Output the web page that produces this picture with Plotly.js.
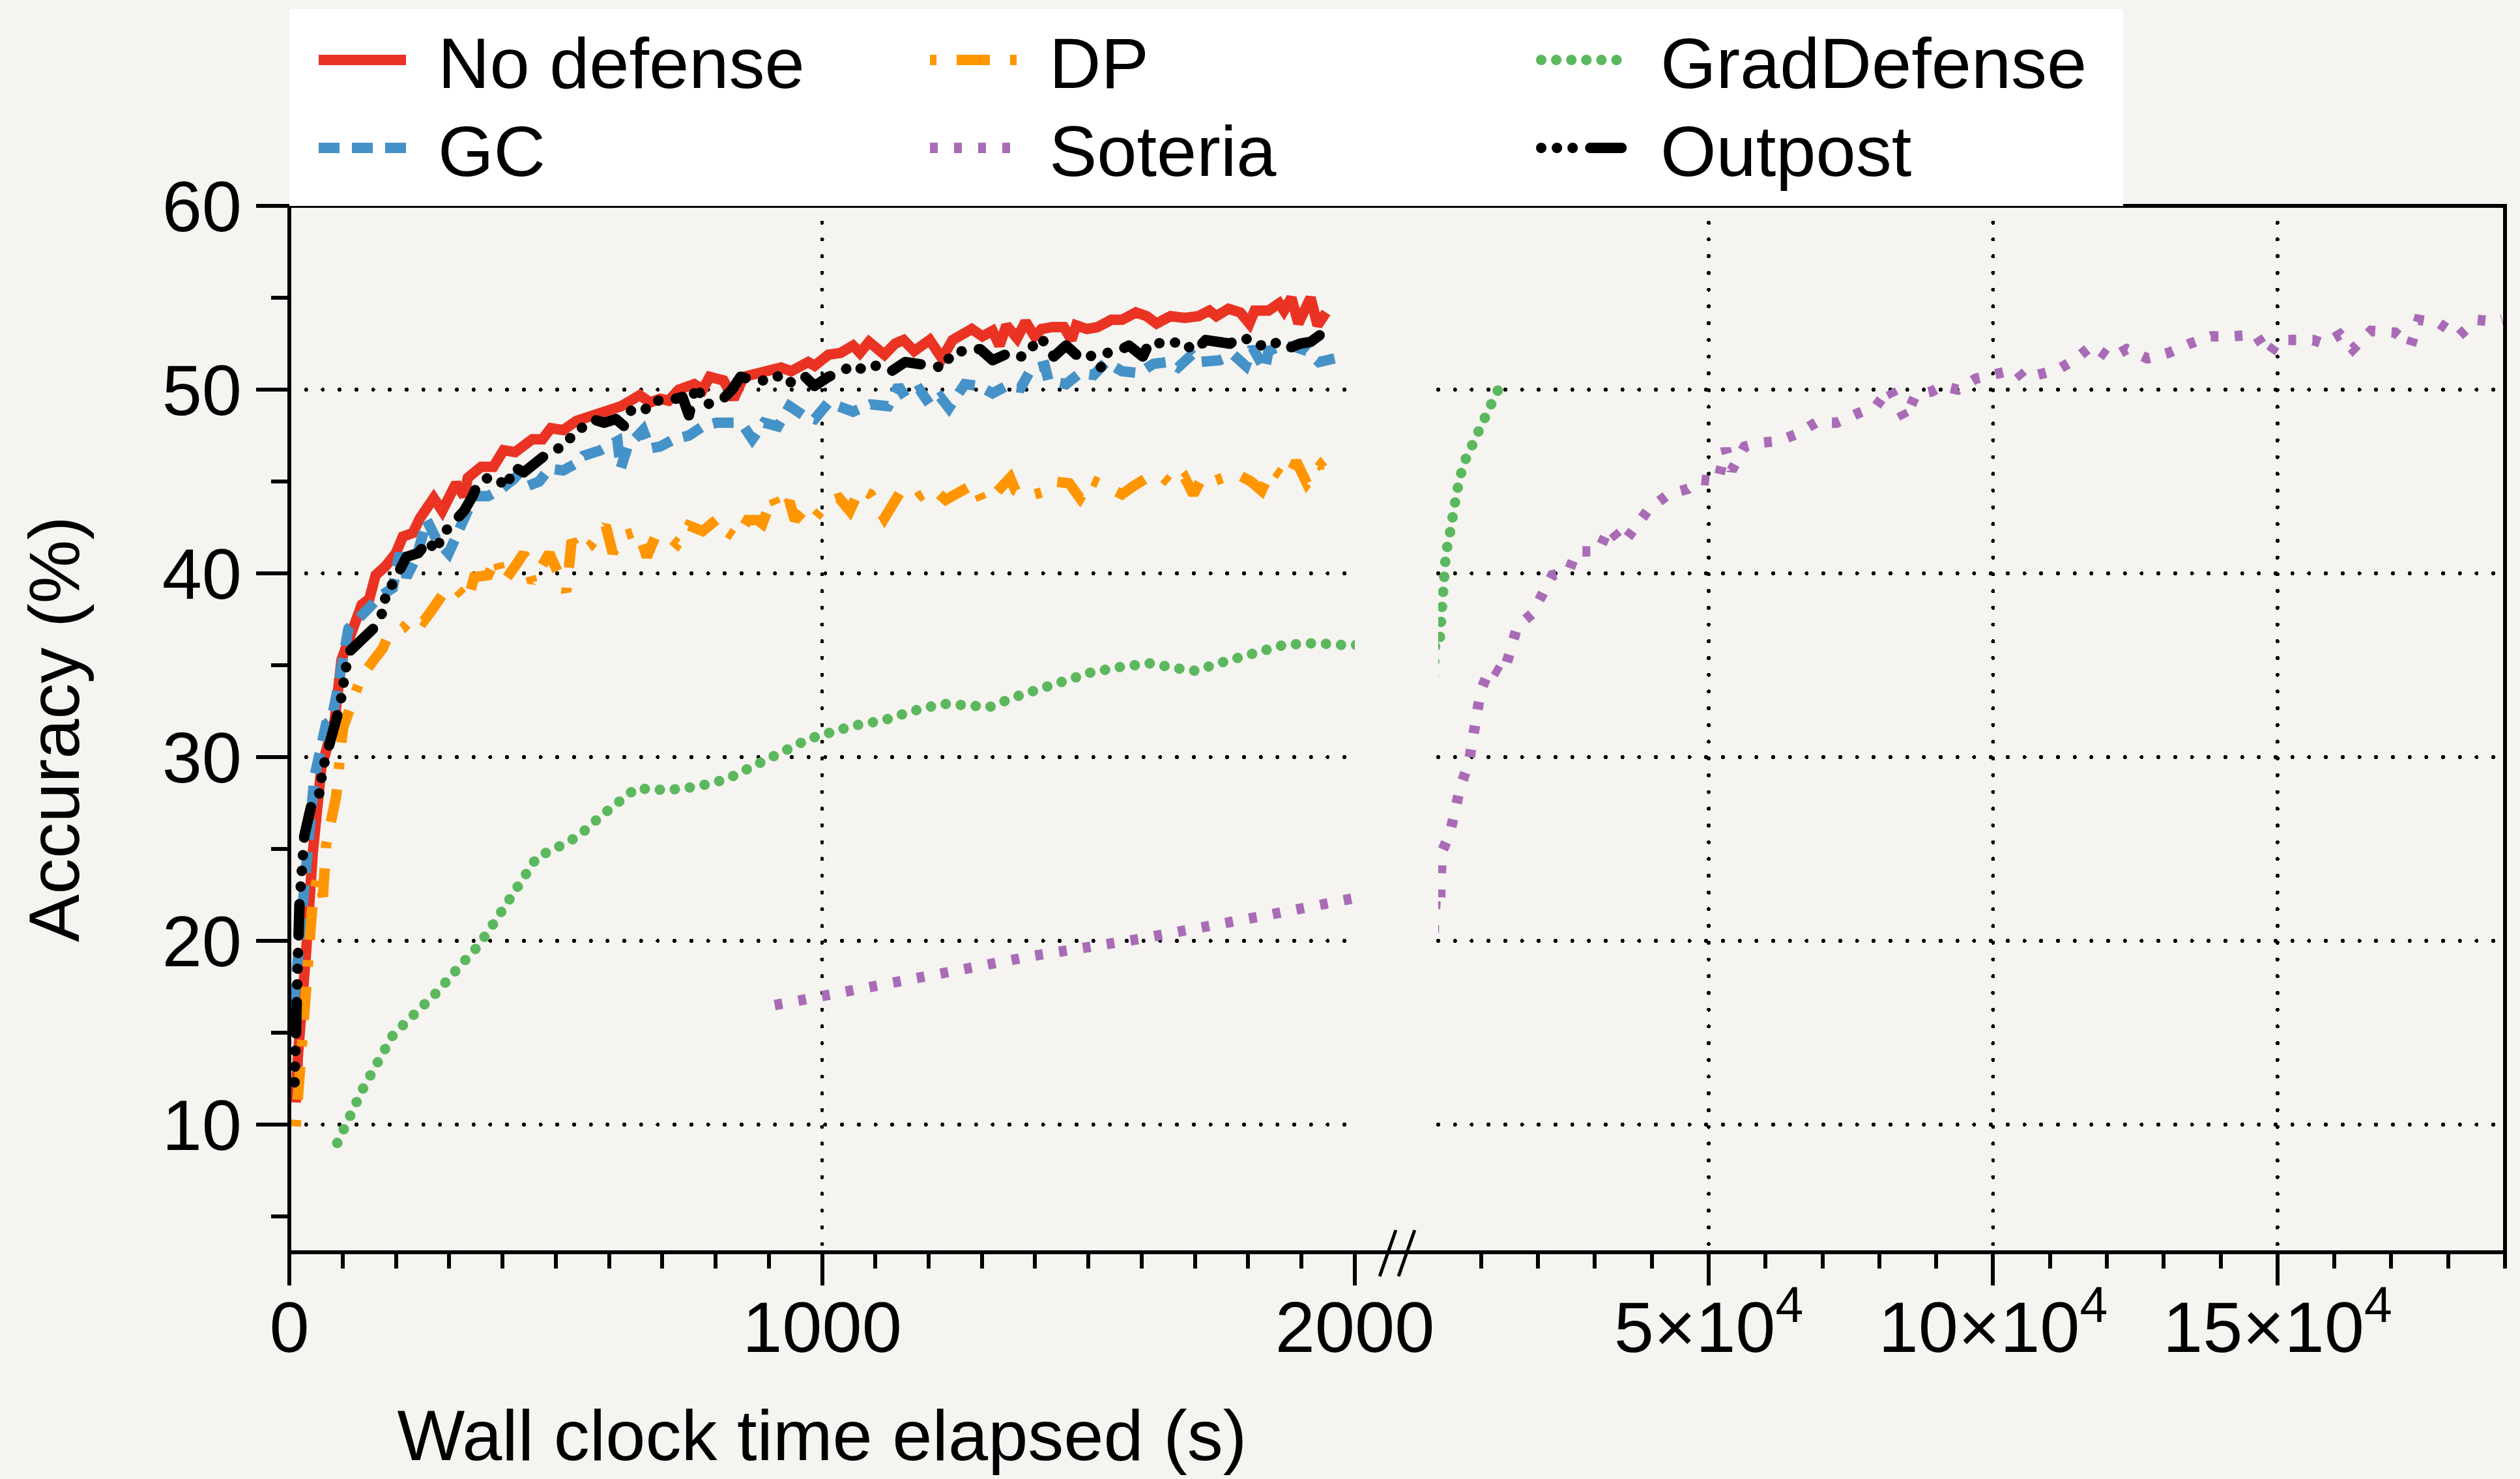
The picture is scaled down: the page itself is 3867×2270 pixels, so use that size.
<!DOCTYPE html>
<html>
<head>
<meta charset="utf-8">
<script src="https://cdn.plot.ly/plotly-3.0.1.min.js"></script>
<style>
  html, body { margin: 0; padding: 0; background: #F5F4F0; }
  #chart { width: 3867px; height: 2270px; }
</style>
</head>
<body>
<div id="chart"></div>
<script>
// ---------------- DATA ----------------
const noDefenseTime = [12,16,31,44,60,85,98,115,136,150,162,181,200,213,232,245,271,287,313,328,335,360,383,402,424,456,475,491,514,539,568,591,623,658,677,696,712,731,760,776,789,815,834,853,891,923,942,974,986,1012,1035,1058,1071,1088,1117,1137,1153,1173,1202,1225,1245,1281,1301,1320,1333,1346,1366,1382,1399,1412,1432,1454,1468,1477,1497,1517,1543,1563,1589,1609,1628,1654,1681,1707,1727,1740,1763,1785,1802,1812,1838,1858,1867,1881,1894,1917,1930,1946];
const noDefenseAcc  = [11.2,13.7,19.2,24.8,29.4,32.0,35.3,36.8,38.3,38.6,39.9,40.4,41.1,42.0,42.2,43.0,44.1,43.4,44.9,44.2,45.2,45.8,45.8,46.7,46.6,47.3,47.3,47.9,47.8,48.3,48.6,48.7,49.1,49.7,49.3,49.5,49.4,50.0,50.3,50.0,50.7,50.5,49.5,50.7,50.9,51.2,51.0,51.5,51.3,51.9,52.0,52.4,52.0,52.6,51.9,52.5,52.7,52.1,52.7,51.7,52.7,53.3,52.9,53.2,52.4,53.5,52.8,53.7,52.9,53.3,53.4,53.4,52.7,53.5,53.3,53.4,53.8,53.8,54.2,54.0,53.6,54.0,53.9,54.0,54.3,54.0,54.4,54.2,53.6,54.3,54.3,54.7,54.3,55.0,53.6,55.0,53.5,54.2];

const gcTime = [8,18,28,34,47,69,79,88,111,149,168,194,207,220,239,258,277,299,315,331,347,373,398,424,443,469,488,514,539,552,584,616,622,635,664,677,696,722,750,776,802,834,853,869,891,917,939,965,986,1012,1038,1058,1091,1124,1143,1156,1183,1202,1222,1238,1268,1294,1320,1346,1373,1392,1418,1425,1458,1484,1510,1533,1563,1595,1622,1648,1668,1694,1707,1746,1772,1795,1808,1831,1838,1864,1890,1910,1933,1962];
const gcAcc  = [16.5,19.4,23.3,25.2,28.9,31.8,32.0,33.3,37.0,38.1,38.7,39.2,41.1,39.8,40.9,42.9,41.8,41.1,42.2,43.3,44.2,44.2,44.6,45.2,44.7,45.0,45.7,45.6,46.0,46.4,46.7,47.2,45.7,46.9,47.8,46.8,46.9,47.3,47.5,48.0,48.2,48.2,48.0,47.3,48.2,48.0,49.1,48.6,48.4,49.3,49.0,48.8,49.2,49.1,50.2,49.6,50.0,49.2,49.6,49.0,50.3,50.2,49.8,50.2,50.1,51.1,51.3,50.5,50.3,50.9,50.8,51.5,51.0,50.9,51.4,51.5,51.2,51.9,51.5,51.6,51.9,51.3,52.3,51.1,52.1,52.4,52.3,52.1,51.5,51.7];

const dpTime = [12,21,31,34,44,53,63,69,88,98,101,124,136,159,175,184,213,235,252,265,277,296,316,335,347,373,389,402,424,440,456,488,520,530,546,565,594,607,622,655,671,687,712,728,750,776,805,815,840,860,879,888,907,920,939,949,968,986,1012,1032,1052,1071,1091,1117,1140,1163,1183,1209,1232,1261,1287,1301,1327,1353,1363,1386,1412,1435,1464,1484,1504,1536,1563,1582,1615,1641,1661,1681,1697,1713,1733,1753,1779,1805,1825,1844,1874,1890,1910,1936,1959];
const dpAcc  = [9.9,13.5,16.4,19.2,22.2,23.5,22.4,25.2,27.9,30.9,31.6,33.5,34.4,35.3,35.9,36.5,37.0,37.7,37.4,37.9,38.5,39.2,39.1,38.5,39.8,39.9,40.9,39.5,40.4,41.1,39.5,41.1,39.0,41.8,41.1,41.5,42.6,41.1,42.0,42.3,40.9,42.0,42.0,41.6,42.6,42.3,43.0,42.4,41.9,42.9,42.9,42.7,44.2,43.3,43.9,42.9,43.5,43.0,43.9,44.1,43.4,44.6,44.3,43.0,44.1,43.7,44.2,44.6,44.0,44.4,44.9,43.9,44.4,45.2,44.5,44.2,44.4,45.0,44.9,44.1,45.1,44.7,44.3,44.7,45.3,45.2,44.7,45.2,44.3,45.2,45.0,45.2,45.4,45.0,44.5,45.7,45.1,46.1,44.9,45.9,45.1];

const soteriaTime = [911,1000,1100,1250,1400,1595,1700,1818,1995,2750,3030,4460,5440,6350,7840,8760,9220,9910,11630,13920,15180,16330,18960,20570,22510,25380,26750,30650,32480,34890,37300,39470,42910,46350,48410,51620,52990,54030,56320,58610,62280,65600,68810,72480,76150,79470,81760,84510,86350,89210,91040,93790,97000,100330,103990,105370,108120,111440,114190,117400,120610,123480,127140,130810,134590,138260,141930,146170,148460,150290,153500,156250,158200,160950,163240,166450,170690,173440,174810,178480,181800,185010,188220,189500];
const soteriaAcc  = [16.5,17.0,17.5,18.3,19.2,20.1,20.6,21.3,22.3,22.0,24.8,25.8,27.2,28.4,29.7,31.1,32.3,33.6,34.9,34.5,35.9,37.1,37.8,38.9,39.9,40.1,41.2,41.2,42.5,41.6,42.7,43.5,44.3,44.6,45.1,45.0,46.8,45.6,46.9,47.1,47.2,47.6,48.2,48.2,48.7,49.1,50.1,48.4,49.7,49.9,50.2,50.0,50.6,50.9,51.1,50.6,50.8,51.1,51.6,52.4,51.7,52.2,51.7,52.0,52.5,52.9,52.9,53.0,51.9,52.7,52.7,52.7,52.5,53.0,52.2,53.2,53.1,52.4,53.8,53.6,52.9,53.8,53.7,53.8];

const gradTime = [90,139,195,236,277,316,354,387,418,450,466,491,543,585,629,651,709,767,821,873,925,976,1058,1115,1169,1225,1283,1312,1365,1448,1504,1559,1615,1673,1700,1756,1810,1866,1923,1980,2700,2900,3100,3300,3500,3800,4400,4700,5000,5700,6800,8300,9200,10100,11600,13000,13900];
const gradAcc  = [9.0,12.0,14.9,16.0,17.2,18.5,19.7,21.1,22.5,23.9,24.6,24.9,25.7,26.8,27.9,28.3,28.2,28.4,28.8,29.5,30.3,31.0,31.7,32.0,32.5,32.9,32.8,32.7,33.3,34.1,34.6,34.9,35.1,34.8,34.7,35.2,35.7,36.1,36.2,36.1,36.3,37.8,38.9,39.8,40.4,41.1,42.0,42.7,43.3,44.4,45.9,47.0,47.7,48.2,49.1,50.0,50.4];

const outpostTime = [10,13,14,16,19,22,28,43,55,63,85,95,111,130,146,165,175,181,197,220,242,261,274,290,309,328,344,354,373,392,408,421,440,456,479,501,524,546,568,591,613,629,642,667,687,712,738,750,763,783,799,811,831,847,875,901,923,946,968,986,1012,1032,1055,1078,1101,1130,1156,1183,1209,1228,1242,1274,1297,1320,1343,1369,1392,1405,1418,1435,1458,1481,1500,1523,1536,1556,1576,1602,1615,1641,1674,1700,1720,1740,1766,1785,1805,1825,1848,1871,1897,1917,1936,1953];
const outpostAcc  = [12.3,14.2,16.0,19.0,22.0,24.5,25.7,27.6,27.8,29.4,31.9,32.8,35.7,36.3,36.8,37.2,37.9,38.8,39.6,40.9,41.1,41.8,41.2,42.2,42.8,43.4,44.2,44.9,45.2,45.1,44.7,45.8,45.5,45.9,46.4,46.7,47.3,47.9,48.4,48.2,48.4,48.0,48.9,48.9,49.4,49.4,49.6,48.6,50.2,49.2,49.3,49.4,50.0,50.7,50.5,50.5,50.8,50.3,50.7,50.2,50.7,50.9,51.3,51.1,51.3,51.0,51.5,51.4,51.4,51.2,51.9,52.2,52.2,51.6,51.9,51.7,52.2,52.8,52.6,51.8,52.4,51.8,52.0,51.2,52.0,52.1,52.4,51.8,52.6,52.5,52.6,52.1,52.7,52.6,52.5,52.9,52.7,52.4,52.6,52.2,52.5,52.6,53.0,53.1];

// axis tick labels
const leftTickVals = [0, 1000, 2000];
const rightTickVals = [50000, 100000, 150000];
const rightTickText = ['5\u00d710<sup>4</sup>', '10\u00d710<sup>4</sup>', '15\u00d710<sup>4</sup>'];
const yTickVals = [10, 20, 30, 40, 50, 60];

// ---------------- STYLE ----------------
const FONT = 'Liberation Sans, Arial, Helvetica, sans-serif';
const LW = 16;
const series = [
  {name: 'No defense', t: noDefenseTime, y: noDefenseAcc, color: '#EA3323', dash: 'solid', rank: 1, round: false, right: false},
  {name: 'GC',         t: gcTime,        y: gcAcc,        color: '#4592C8', dash: '32px,19px', rank: 4, round: false, right: false},
  {name: 'DP',         t: dpTime,        y: dpAcc,        color: '#FF9500', dash: '10px,31px,51px,31px', rank: 2, round: false, right: false},
  {name: 'Soteria',    t: soteriaTime,   y: soteriaAcc,   color: '#A96BB6', dash: '12px,25px', rank: 5, round: false, right: true},
  {name: 'GradDefense',t: gradTime,      y: gradAcc,      color: '#5CB85E', dash: '0.1px,23px', rank: 3, round: true, right: true},
  {name: 'Outpost',    t: outpostTime,   y: outpostAcc,   color: '#000000', dash: '0.1px,24px,0.1px,24px,0.1px,27px,48px,27px', rank: 6, round: true, right: false}
];

const data = [];
series.forEach(function (s) {
  data.push({
    type: 'scatter', mode: 'lines', name: s.name, x: s.t, y: s.y,
    xaxis: 'x', yaxis: 'y', legendgroup: s.name, legendrank: s.rank,
    line: {color: s.color, width: LW, dash: s.dash}, hoverinfo: 'skip'
  });
  if (s.right) {
    data.push({
      type: 'scatter', mode: 'lines', name: s.name, x: s.t, y: s.y,
      xaxis: 'x2', yaxis: 'y', legendgroup: s.name, showlegend: false,
      line: {color: s.color, width: LW, dash: s.dash}, hoverinfo: 'skip'
    });
  }
});

const common = {
  ticks: 'outside', ticklen: 50, tickwidth: 6, tickcolor: '#000',
  showline: false, zeroline: false, showgrid: true,
  gridcolor: '#000', gridwidth: 6, griddash: '0.1px,25.6px',
  tickfont: {family: FONT, size: 110, color: '#000'}, fixedrange: true
};

const layout = {
  width: 3867, height: 2270,
  paper_bgcolor: '#F5F4F0', plot_bgcolor: '#F5F4F0',
  margin: {l: 444, r: 23, t: 316, b: 348, pad: 0},
  font: {family: FONT, size: 110, color: '#000'},
  showlegend: true,
  legend: {
    orientation: 'h', x: 0, xanchor: 'left', y: 1, yanchor: 'bottom',
    bgcolor: '#FFFFFF', borderwidth: 0,
    font: {family: FONT, size: 110, color: '#000'},
    itemwidth: 134, entrywidth: 789, entrywidthmode: 'pixels',
    traceorder: 'normal', valign: 'middle'
  },
  xaxis: Object.assign({}, common, {
    domain: [0, 0.48088], range: [0, 2000], anchor: 'y',
    tickmode: 'array', tickvals: leftTickVals, ticklabelstandoff: -30,
    minor: {ticks: 'outside', ticklen: 24, tickwidth: 6, tickcolor: '#000', tickmode: 'linear', tick0: 0, dtick: 100, showgrid: false},
    title: {text: 'Wall clock time elapsed (s)', font: {family: FONT, size: 110, color: '#000'}, standoff: 66}
  }),
  xaxis2: Object.assign({}, common, {
    domain: [0.51853, 1], range: [2450, 190000], anchor: 'y',
    tickmode: 'array', tickvals: rightTickVals, ticktext: rightTickText, ticklabelstandoff: -30,
    minor: {ticks: 'outside', ticklen: 24, tickwidth: 6, tickcolor: '#000', tickmode: 'linear', tick0: 0, dtick: 10000, showgrid: false}
  }),
  yaxis: Object.assign({}, common, {
    domain: [0, 1], range: [3.05, 60], anchor: 'x',
    tickmode: 'array', tickvals: yTickVals,
    minor: {ticks: 'outside', ticklen: 27, tickwidth: 6, tickcolor: '#000', tickmode: 'linear', tick0: 5, dtick: 10, showgrid: false},
    title: {text: 'Accuracy (%)', font: {family: FONT, size: 110, color: '#000'}, standoff: 90}
  }),
  shapes: [
    {type: 'rect', xref: 'paper', yref: 'paper', x0: 0, x1: 1, y0: 0, y1: 1,
     line: {color: '#000', width: 6}, fillcolor: 'rgba(0,0,0,0)', layer: 'above'},
    {type: 'line', xref: 'paper', yref: 'paper', x0: 0.4921, x1: 0.4994, y0: -0.023, y1: 0.0212,
     line: {color: '#000', width: 5}, layer: 'above'},
    {type: 'line', xref: 'paper', yref: 'paper', x0: 0.5006, x1: 0.5079, y0: -0.023, y1: 0.0212,
     line: {color: '#000', width: 5}, layer: 'above'}
  ]
};

const roundNames = {};
series.forEach(function (s) { roundNames[s.name] = s.round; });

function fixStyles() {
  const gd = document.getElementById('chart');
  // line caps of the plotted series
  gd.querySelectorAll('.scatterlayer .trace').forEach(function (g) {
    const d = g.__data__;
    if (!d || !d[0] || !d[0].trace) return;
    const round = roundNames[d[0].trace.name];
    g.querySelectorAll('path.js-line').forEach(function (p) {
      p.style.strokeLinecap = round ? 'round' : 'butt';
      p.style.strokeLinejoin = round ? 'round' : 'miter';
    });
  });
  // legend: full line width, caps, symbol/text spacing, row spacing
  const items = Array.from(gd.querySelectorAll('.legend .traces'));
  const ys = [];
  items.forEach(function (g) {
    const m = /translate\(\s*([-\d.]+)[\s,]+([-\d.]+)\s*\)/.exec(g.getAttribute('transform') || '');
    ys.push(m ? [+m[1], +m[2]] : null);
  });
  const minY = Math.min.apply(null, ys.filter(Boolean).map(function (v) { return v[1]; }));
  items.forEach(function (g, i) {
    const d = g.__data__;
    const round = d && d[0] && d[0].trace ? roundNames[d[0].trace.name] : false;
    g.querySelectorAll('path.js-line').forEach(function (p) {
      p.style.strokeWidth = LW + 'px';
      p.style.strokeLinecap = round ? 'round' : 'butt';
      p.setAttribute('transform', 'translate(40,0)');
    });
    const t = g.querySelector('.legendtext');
    if (t) t.setAttribute('x', (+t.getAttribute('x') || 0) + 84);
    if (ys[i] && ys[i][1] > minY + 50) {
      g.setAttribute('transform', 'translate(' + ys[i][0] + ',' + (ys[i][1] - 11) + ')');
    }
  });
  gd.querySelectorAll('.gridlayer path').forEach(function (p) { p.style.strokeLinecap = 'round'; });
  gd.querySelectorAll('text').forEach(function (t) { if (!t.textContent.trim()) t.remove(); });
}

const gd = document.getElementById('chart');
Plotly.newPlot(gd, data, layout, {staticPlot: true, displayModeBar: false}).then(fixStyles);
</script>
</body>
</html>
